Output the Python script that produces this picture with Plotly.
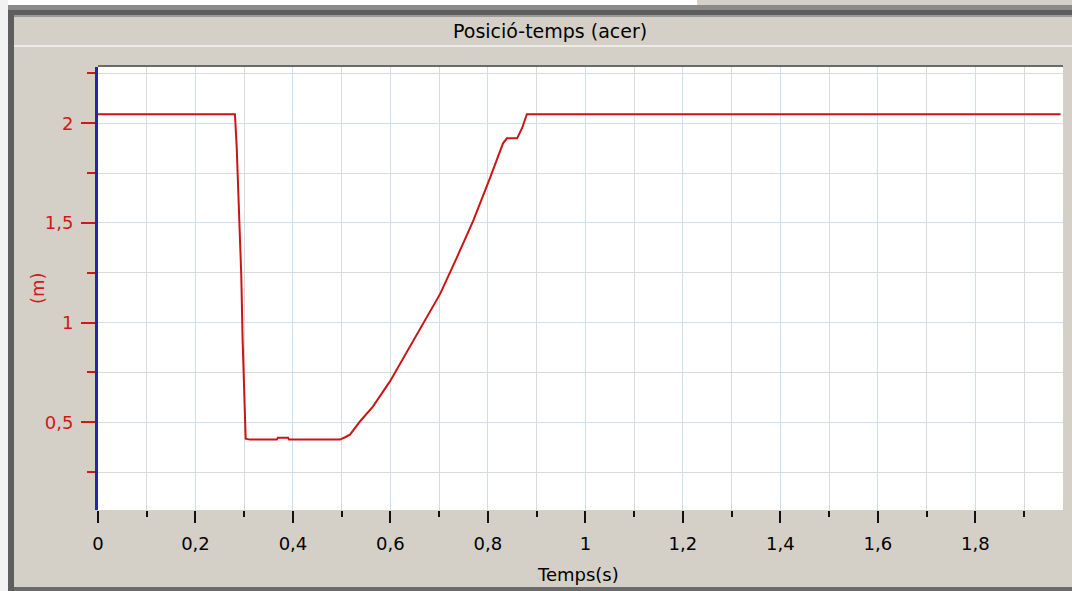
import plotly.graph_objects as go

# ---- data ----
time_s = [0.0, 0.281, 0.2846, 0.290, 0.294, 0.2967, 0.300, 0.303, 0.312,
          0.367, 0.369, 0.390, 0.392, 0.4965, 0.507, 0.517, 0.5375, 0.564,
          0.599, 0.634, 0.667, 0.702, 0.736, 0.770, 0.804, 0.831, 0.839,
          0.860, 0.870, 0.880, 1.975]
pos_m = [2.045, 2.045, 1.879, 1.552, 1.234, 0.917, 0.589, 0.418, 0.413,
         0.413, 0.423, 0.423, 0.413, 0.413, 0.425, 0.438, 0.504, 0.579,
         0.705, 0.856, 0.992, 1.144, 1.325, 1.511, 1.723, 1.899, 1.924,
         1.924, 1.975, 2.045, 2.045]

x_major = [0, 0.2, 0.4, 0.6, 0.8, 1.0, 1.2, 1.4, 1.6, 1.8]
x_major_text = ["0", "0,2", "0,4", "0,6", "0,8", "1", "1,2", "1,4", "1,6", "1,8"]
x_minor = [0.1, 0.3, 0.5, 0.7, 0.9, 1.1, 1.3, 1.5, 1.7, 1.9]
y_major = [0.5, 1.0, 1.5, 2.0]
y_major_text = ["0,5", "1", "1,5", "2"]
y_minor = [0.25, 0.75, 1.25, 1.75, 2.25]

title_text = "Posició-temps (acer)"
x_title = "Temps(s)"
y_title = "(m)"

# ---- layout geometry (pixels) ----
W, H = 1072, 591
PL, PR, PT, PB = 98, 1063, 67, 510
PW, PH = PR - PL, PB - PT

def px(xp):
    return (xp - PL) / PW

def py(yp):
    return (PB - yp) / PH

FONT = "DejaVu Sans"
FS = 18
BG = "#d4d0c8"
RED = "#d01818"
BLUE_GRID = "#c9e1f2"
GRAY_GRID = "#dadada"

fig = go.Figure()
fig.add_trace(go.Scatter(x=time_s, y=pos_m, mode="lines",
                         line=dict(color="#cc1414", width=2),
                         hoverinfo="skip", showlegend=False))

shapes = []
def rect(x0, y0, x1, y1, color):
    shapes.append(dict(type="rect", xref="paper", yref="paper",
                       x0=px(x0), x1=px(x1), y0=py(y1), y1=py(y0),
                       fillcolor=color, line=dict(width=0), layer="below"))

# window frame
rect(0, 0, 697, 5, "#ffffff")
rect(0, 0, 8, H, "#f2f2f2")
rect(8, 5, W, 10, "#8a8a8a")
rect(8, 10, W, 15, "#5e5e5e")
rect(8, 10, 14, H, "#5e5e5e")
rect(14, 15, W, 17, "#9a9a9a")
rect(14, 45, W, 47, "#ecebe6")
rect(14, 587, W, H, "#6a6a6a")
# plot area top border
rect(PL, PT - 2, PR, PT, "#6a6a6a")

fig.update_layout(
    width=W, height=H,
    margin=dict(l=PL, r=W - PR, t=PT, b=H - PB, pad=0),
    paper_bgcolor=BG, plot_bgcolor="#ffffff",
    font=dict(family=FONT, size=FS, color="#000000"),
    shapes=shapes,
    showlegend=False,
    xaxis=dict(range=[0, 1.98], showline=False, zeroline=False,
               tickmode="array", tickvals=x_major, ticktext=x_major_text,
               ticks="outside", ticklen=12, tickwidth=2, tickcolor="#111111",
               ticklabelstandoff=5,
               showgrid=True, gridcolor=BLUE_GRID, gridwidth=1,
               tickfont=dict(family=FONT, size=FS, color="#000000"),
               minor=dict(tickvals=x_minor, ticks="outside", ticklen=6,
                          tickwidth=2, tickcolor="#111111",
                          showgrid=True, gridcolor=GRAY_GRID, gridwidth=1)),
    yaxis=dict(range=[0.06, 2.282], showline=True, linecolor="#2424b4",
               linewidth=3, zeroline=False,
               tickmode="array", tickvals=y_major, ticktext=y_major_text,
               ticks="outside", ticklen=14, tickwidth=2, tickcolor=RED,
               ticklabelstandoff=4,
               showgrid=True, gridcolor=BLUE_GRID, gridwidth=1,
               tickfont=dict(family=FONT, size=FS, color=RED),
               minor=dict(tickvals=y_minor, ticks="outside", ticklen=8,
                          tickwidth=2, tickcolor=RED,
                          showgrid=True, gridcolor=GRAY_GRID, gridwidth=1)),
    annotations=[
        dict(text=title_text, xref="paper", yref="paper", x=px(550), y=py(31),
             showarrow=False, xanchor="center", yanchor="middle",
             font=dict(family=FONT, size=19, color="#000000")),
        dict(text=x_title, xref="paper", yref="paper", x=px(578), y=py(574),
             showarrow=False, xanchor="center", yanchor="middle",
             font=dict(family=FONT, size=FS, color="#000000")),
        dict(text=y_title, xref="paper", yref="paper", x=px(37), y=py(288),
             showarrow=False, xanchor="center", yanchor="middle", textangle=-90,
             font=dict(family=FONT, size=FS, color=RED)),
    ],
)

fig.write_html("out.html",
               config={"displayModeBar": False, "staticPlot": True},
               post_script="document.body.style.margin='0';"
                           "document.body.style.overflow='hidden';")
